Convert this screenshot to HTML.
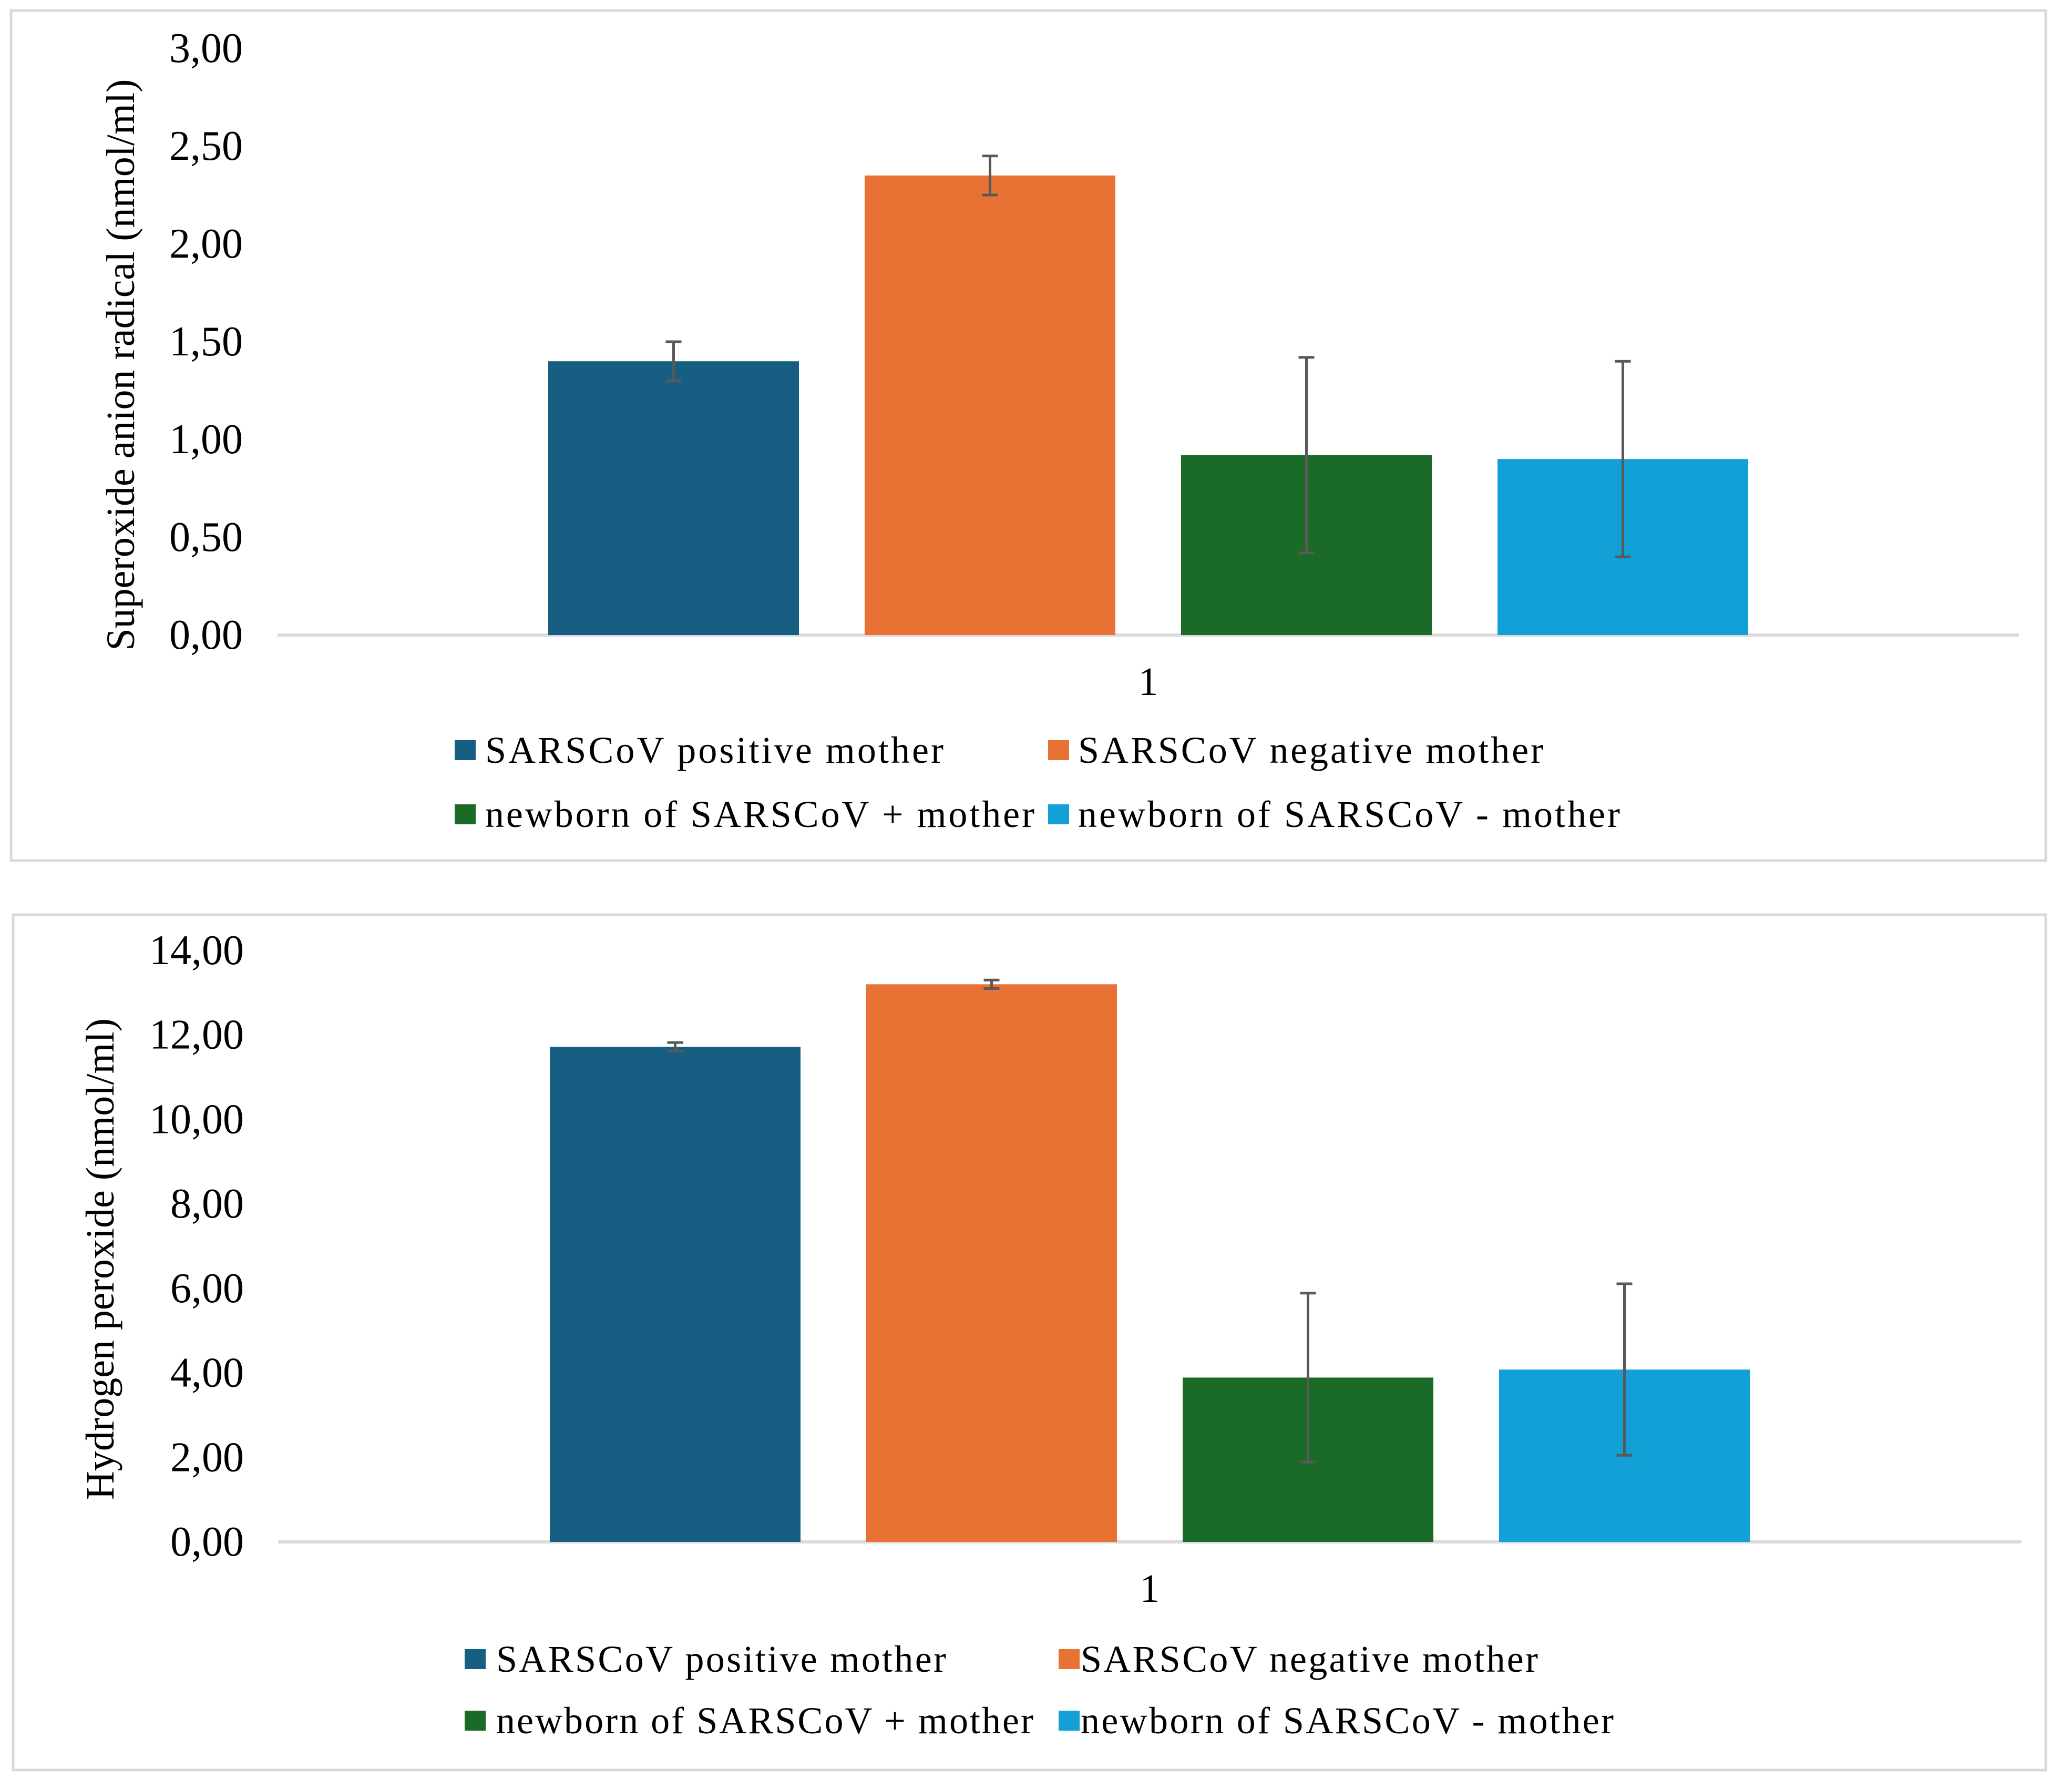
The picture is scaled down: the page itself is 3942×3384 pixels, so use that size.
<!DOCTYPE html>
<html><head><meta charset="utf-8"><style>
html,body{margin:0;padding:0;background:#fff}
svg{display:block}
text{font-family:"Liberation Serif",serif;fill:#000}
</style></head><body>
<svg id="c" width="3942" height="3384" viewBox="0 0 3942 3384" xmlns="http://www.w3.org/2000/svg"></svg>
<script>
const categories = ["1"];
const seriesNames = ["SARSCoV positive mother","SARSCoV negative mother","newborn of SARSCoV + mother","newborn of SARSCoV - mother"];
const seriesColors = ["#175F82","#E87234","#1A6B27","#12A0D6"];
const superoxideValues = [1.40, 2.35, 0.92, 0.90];
const superoxideErrors = [0.10, 0.10, 0.50, 0.50];
const superoxideTicks = ["0,00","0,50","1,00","1,50","2,00","2,50","3,00"];
const superoxideTickValues = [0,0.5,1,1.5,2,2.5,3];
const peroxideValues = [11.72, 13.20, 3.89, 4.08];
const peroxideErrors = [0.10, 0.10, 2.00, 2.03];
const peroxideTicks = ["0,00","2,00","4,00","6,00","8,00","10,00","12,00","14,00"];
const peroxideTickValues = [0,2,4,6,8,10,12,14];

const NS="http://www.w3.org/2000/svg";
const svg=document.getElementById('c');
function mk(tag,attrs,parent){const e=document.createElementNS(NS,tag);for(const k in attrs)e.setAttribute(k,attrs[k]);(parent||svg).appendChild(e);return e;}

function chart(cfg){
  const g=mk('g',{});
  
  
  const border=mk('rect',{x:cfg.box[0],y:cfg.box[1],width:cfg.box[2],height:cfg.box[3],fill:'#fff',stroke:'#D9D9D9','stroke-width':5},g);
  
  
  const y=v=>cfg.base-(v-0)/(cfg.max)*(cfg.base-cfg.top);
  cfg.tickValues.forEach((tv,i)=>{
    const t=mk('text',{x:cfg.tickRight,y:y(tv),'font-size':80,'text-anchor':'end','dominant-baseline':'central'},g);
    t.textContent=cfg.ticks[i];
    
    
  });
  const ax=mk('line',{x1:cfg.x0,x2:cfg.x1,y1:cfg.base,y2:cfg.base,stroke:'#D9D9D9','stroke-width':6},g);
  
  
  const catW=(cfg.x1-cfg.x0)/categories.length;
  const n=cfg.values.length;
  const slot=602, bw=477;
  categories.forEach((c,ci)=>{
    const cx=cfg.x0+catW*(ci+0.5);
    cfg.values.forEach((v,i)=>{
      const bc=cx+(i-(n-1)/2)*slot;
      const r=mk('rect',{x:bc-bw/2,y:y(v),width:bw,height:cfg.base-y(v),fill:seriesColors[i]},g);
      
      
      const e=cfg.errors[i];
      const eg=mk('g',{stroke:'#595959','stroke-width':5},g);
      
      
      mk('line',{x1:bc,x2:bc,y1:y(v+e),y2:y(v-e)},eg);
      mk('line',{x1:bc-15,x2:bc+15,y1:y(v+e),y2:y(v+e)},eg);
      mk('line',{x1:bc-15,x2:bc+15,y1:y(v-e),y2:y(v-e)},eg);
    });
    const cl=mk('text',{x:cx,y:cfg.catY,'font-size':76,'text-anchor':'middle','dominant-baseline':'central'},g);
    cl.textContent=c;
    
    
  });
  const yt=mk('text',{x:0,y:0,'font-size':76,'text-anchor':'middle','dominant-baseline':'central',transform:`translate(${cfg.titleX},${cfg.titleY}) rotate(-90)`},g);
  yt.textContent=cfg.title;
  
  
  cfg.legend.forEach((L,i)=>{
    const lg=mk('g',{},g);
    
    
    mk('rect',{x:L[0],y:L[1]-19,width:40,height:38,fill:seriesColors[i]},lg);
    const t=mk('text',{x:L[2],y:L[1],'font-size':72,'dominant-baseline':'central',textLength:L[3],lengthAdjust:'spacing'},lg);
    t.textContent=seriesNames[i];
  });
}

chart({name:'superoxide-chart',box:[21,20,3871,1617],base:1208,top:92,max:3,x0:528,x1:3841,
  values:superoxideValues,errors:superoxideErrors,ticks:superoxideTicks,tickValues:superoxideTickValues,
  tickRight:462,catY:1297,titleX:230,titleY:694,title:'Superoxide anion radical (nmol/ml)',
  legend:[[865,1427,923,872],[1994,1427,2051,885],[865,1549,923,1045],[1994,1549,2051,1031]]});

chart({name:'hydrogen-peroxide-chart',box:[25,1740,3867,1627],base:2933,top:1808,max:14,x0:529,x1:3846,
  values:peroxideValues,errors:peroxideErrors,ticks:peroxideTicks,tickValues:peroxideTickValues,
  tickRight:464,catY:3022,titleX:191,titleY:2395,title:'Hydrogen peroxide (nmol/ml)',
  legend:[[884,3156,944,856],[2014,3156,2056,870],[884,3273,944,1022],[2014,3273,2056,1014]]});
</script>
</body></html>
